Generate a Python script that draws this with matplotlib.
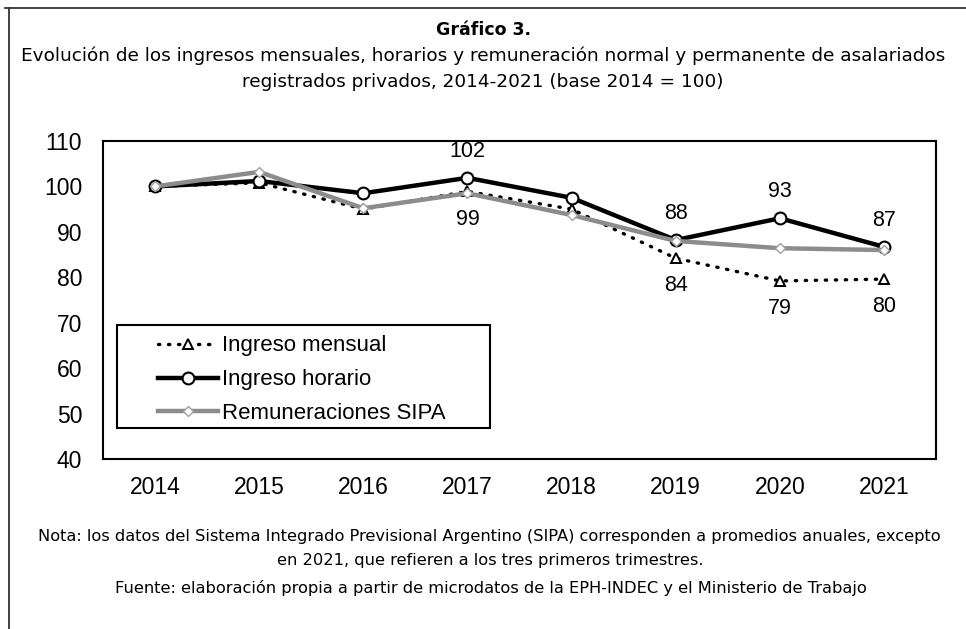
import matplotlib.pyplot as plt
from matplotlib.lines import Line2D
from matplotlib.patches import Rectangle

# datos (base 2014 = 100)
years = ['2014', '2015', '2016', '2017', '2018', '2019', '2020', '2021']
ingreso_mensual = [100, 100.8, 95, 98.9, 95, 84.2, 79.2, 79.6]
ingreso_horario = [100, 101.2, 98.5, 101.9, 97.5, 88.2, 93, 86.7]
remuneraciones_sipa = [100, 103.2, 95.2, 98.5, 93.7, 88, 86.4, 86]

# puntos con etiqueta
label_idx = [3, 5, 6, 7]

title = 'Gráfico 3.'
subtitle = ('Evolución de los ingresos mensuales, horarios y remuneración normal y permanente de asalariados\n'
            'registrados privados, 2014-2021 (base 2014 = 100)')
nota = ('Nota: los datos del Sistema Integrado Previsional Argentino (SIPA) corresponden a promedios anuales, excepto\n'
        'en 2021, que refieren a los tres primeros trimestres.')
fuente = 'Fuente: elaboración propia a partir de microdatos de la EPH-INDEC y el Ministerio de Trabajo'

plt.rcParams['font.family'] = ['Liberation Sans', 'DejaVu Sans']
txt_font = ['DejaVu Sans']

fig = plt.figure(figsize=(9.66, 6.29), dpi=100)
ax = fig.add_axes([0.1066, 0.2703, 0.8624, 0.5055])

x = list(range(len(years)))

ax.plot(x, ingreso_mensual, color='black', lw=2.4, linestyle=(0, (0.4, 2.6)),
        dash_capstyle='round', marker='^', markersize=7, markerfacecolor='white',
        markeredgecolor='black', markeredgewidth=1.4, label='Ingreso mensual', zorder=3)
ax.plot(x, ingreso_horario, color='black', lw=3.2, marker='o', markersize=8.5,
        markerfacecolor='white', markeredgecolor='black', markeredgewidth=1.5,
        label='Ingreso horario', zorder=4)
ax.plot(x, remuneraciones_sipa, color='#8c8c8c', lw=3.2, marker='D', markersize=5,
        markerfacecolor='white', markeredgecolor='#a0a0a0', markeredgewidth=1.0,
        label='Remuneraciones SIPA', zorder=5)

for i in label_idx:
    ax.annotate(f'{round(ingreso_horario[i])}', (x[i], ingreso_horario[i]),
                xytext=(0, 19), textcoords='offset points', ha='center', va='center',
                fontsize=15.5)
    ax.annotate(f'{round(ingreso_mensual[i])}', (x[i], ingreso_mensual[i]),
                xytext=(0, -20), textcoords='offset points', ha='center', va='center',
                fontsize=15.5)

ax.set_xlim(-0.5, len(years) - 0.5)
ax.set_ylim(40, 110)
ax.set_yticks(range(40, 111, 10))
ax.set_xticks(x)
ax.set_xticklabels(years)
ax.tick_params(axis='both', length=0, labelsize=16.5)
ax.tick_params(axis='y', pad=15)
ax.tick_params(axis='x', pad=12)
for s in ax.spines.values():
    s.set_linewidth(1.5)
    s.set_color('black')

# leyenda: marco dibujado aparte
ax.add_patch(Rectangle((0.0168, 0.0975), 0.4478, 0.3239, transform=ax.transAxes,
                       facecolor='white', edgecolor='black', lw=1.5, zorder=6))
leg = ax.legend(loc='center left', bbox_to_anchor=(0.066, 0.249), fontsize=16,
                handlelength=2.7, handletextpad=0.2, borderpad=0,
                labelspacing=0.58, frameon=False, borderaxespad=0)
leg.set_zorder(7)

# textos
fig.text(0.5, 0.953, title, ha='center', va='center', fontsize=12.5, fontweight='bold',
         family=txt_font)
fig.text(0.5, 0.891, subtitle, ha='center', va='center', fontsize=13.3,
         family=txt_font, linespacing=1.6)
fig.text(0.507, 0.128, nota, ha='center', va='center', fontsize=11.7,
         family=txt_font, linespacing=1.7)
fig.text(0.508, 0.065, fuente, ha='center', va='center', fontsize=11.7,
         family=txt_font)

# marco exterior
fig.add_artist(Line2D([0.0093, 0.0093], [0, 0.987], color='#333333', lw=1.3,
                      transform=fig.transFigure))
fig.add_artist(Line2D([0.005, 1], [0.987, 0.987], color='#333333', lw=1.3,
                      transform=fig.transFigure))

fig.savefig('out.png', dpi=100)
